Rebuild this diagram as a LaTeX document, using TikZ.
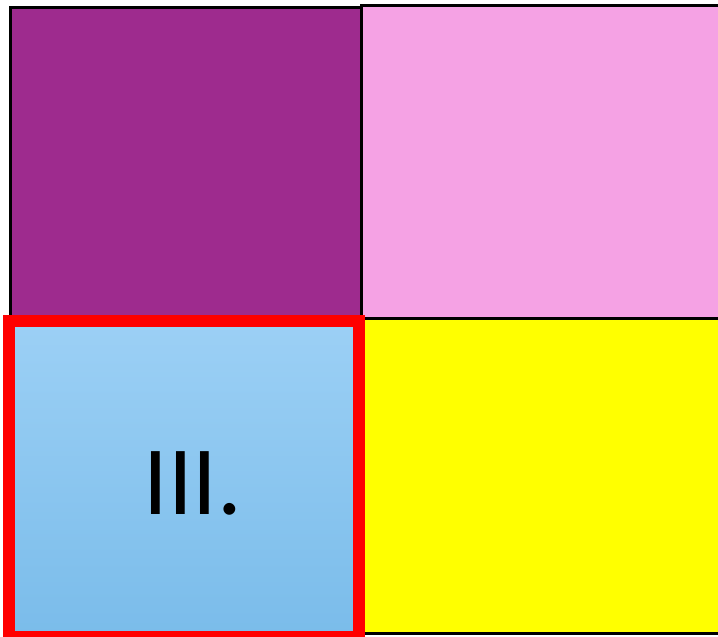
\documentclass[tikz,border=0pt]{standalone}
\usepackage{fontspec}
\setmainfont{Carlito}
\usetikzlibrary{positioning}
\definecolor{quadpurple}{RGB}{158,43,142}
\definecolor{quadpink}{RGB}{245,162,228}
\definecolor{quadyellow}{RGB}{255,255,0}
\definecolor{quadbluetop}{RGB}{156,208,245}
\definecolor{quadbluebot}{RGB}{122,188,234}
\definecolor{quadred}{RGB}{255,0,0}
\begin{document}
\begin{tikzpicture}[
  x=1pt, y=-1pt,
  quad/.style={draw=black, line width=3pt},
  marked/.style={draw=quadred, line width=12pt},
  label/.style={font=\fontsize{98}{98}\selectfont, text=black},
]
\useasboundingbox (0,0) rectangle (718,637);
\clip (0,0) rectangle (718,637);
% quadrants
\draw[quad, fill=quadyellow] (361,318) rectangle (725,633);
\draw[quad, fill=quadpink] (361,5) rectangle (725,318);
\draw[quad, fill=quadpurple] (10.5,7) rectangle (361,318);
\draw[marked, top color=quadbluetop, bottom color=quadbluebot] (8.5,321) rectangle (358.5,636.5);
\node[label] (q3) at (193,483) {III.};
\end{tikzpicture}
\end{document}
